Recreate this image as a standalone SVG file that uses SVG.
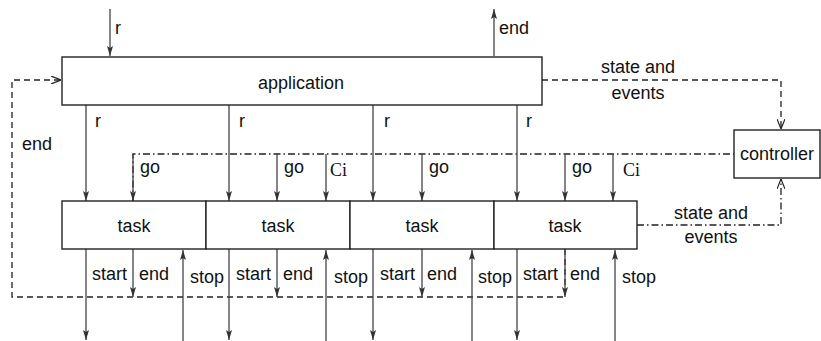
<svg xmlns="http://www.w3.org/2000/svg" width="821" height="341" viewBox="0 0 821 341">
<defs>
<marker id="ah" viewBox="0 0 10 6" refX="10" refY="3" markerWidth="10" markerHeight="6" markerUnits="userSpaceOnUse" orient="auto">
<path d="M0,0 L10,3 L0,6 L2,3 Z" fill="#333"/>
</marker>
<marker id="ao" viewBox="0 0 10 8" refX="10" refY="4" markerWidth="10" markerHeight="8" markerUnits="userSpaceOnUse" orient="auto">
<path d="M0,0 L10,4 L0,8" fill="none" stroke="#222" stroke-width="1.2"/>
</marker>
</defs>
<style>
.box{fill:#fff;stroke:#222;stroke-width:1.4}
.t{font-family:"Liberation Sans",Arial,sans-serif;font-size:18px;fill:#111}
.c{text-anchor:middle}
.s{font-family:"Liberation Serif","Times New Roman",serif;font-size:18px;fill:#111}
.a{stroke:#444;stroke-width:1.3;fill:none;marker-end:url(#ah)}
.d{stroke:#222;stroke-width:1.3;fill:none;stroke-dasharray:6,4}
.dd{stroke:#222;stroke-width:1.3;fill:none;stroke-dasharray:7,3,1.5,3}
</style>
<g id="connectors">
<line class="a" x1="110" y1="9" x2="110" y2="56"/>
<line class="a" x1="494" y1="56" x2="494" y2="9"/>
<polyline class="d" points="542,80 781,80 781,129" marker-end="url(#ao)"/>
<polyline class="d" points="565,249 565,297 12,297 12,80 61,80" marker-end="url(#ao)"/>
<polyline class="dd" points="133,202 133,154 734,154"/>
<polyline class="dd" points="637,225 781,225 781,179" marker-end="url(#ao)"/>
<line class="a" x1="86" y1="105" x2="86" y2="201"/>
<line class="a" x1="229" y1="105" x2="229" y2="201"/>
<line class="a" x1="373" y1="105" x2="373" y2="201"/>
<line class="a" x1="517" y1="105" x2="517" y2="201"/>
<line class="a" x1="133" y1="154" x2="133" y2="201"/>
<line class="a" x1="277" y1="154" x2="277" y2="201"/>
<line class="a" x1="422" y1="154" x2="422" y2="201"/>
<line class="a" x1="565" y1="154" x2="565" y2="201"/>
<line class="a" x1="326" y1="154" x2="326" y2="201"/>
<line class="a" x1="613" y1="154" x2="613" y2="201"/>
<line class="a" x1="86" y1="249" x2="86" y2="340"/>
<line class="a" x1="229" y1="249" x2="229" y2="340"/>
<line class="a" x1="373" y1="249" x2="373" y2="340"/>
<line class="a" x1="517" y1="249" x2="517" y2="340"/>
<line class="a" x1="133" y1="249" x2="133" y2="297"/>
<line class="a" x1="277" y1="249" x2="277" y2="297"/>
<line class="a" x1="422" y1="249" x2="422" y2="297"/>
<line class="a" x1="565" y1="249" x2="565" y2="297"/>
<line class="a" x1="183" y1="341" x2="183" y2="250"/>
<line class="a" x1="326" y1="341" x2="326" y2="250"/>
<line class="a" x1="472" y1="341" x2="472" y2="250"/>
<line class="a" x1="615" y1="341" x2="615" y2="250"/>
</g>
<g id="labels">
<text class="t" x="115" y="34">r</text>
<text class="t" x="499" y="34">end</text>
<text class="t c" x="638" y="73">state and</text>
<text class="t c" x="638" y="99">events</text>
<text class="t" x="22" y="150">end</text>
<text class="t" x="95" y="127">r</text>
<text class="t" x="239" y="127">r</text>
<text class="t" x="384" y="127">r</text>
<text class="t" x="526" y="127">r</text>
<text class="t" x="140" y="173">go</text>
<text class="t" x="284" y="173">go</text>
<text class="t" x="429" y="173">go</text>
<text class="t" x="572" y="173">go</text>
<text class="s" x="330" y="176">Ci</text>
<text class="s" x="623" y="176">Ci</text>
<text class="t c" x="711" y="219">state and</text>
<text class="t c" x="711" y="243">events</text>
<text class="t" x="92" y="280">start</text>
<text class="t" x="139" y="280">end</text>
<text class="t" x="190" y="283">stop</text>
<text class="t" x="236" y="280">start</text>
<text class="t" x="283" y="280">end</text>
<text class="t" x="334" y="283">stop</text>
<text class="t" x="380" y="280">start</text>
<text class="t" x="427" y="280">end</text>
<text class="t" x="478" y="283">stop</text>
<text class="t" x="523" y="280">start</text>
<text class="t" x="570" y="280">end</text>
<text class="t" x="622" y="283">stop</text>
</g>
<g id="application">
<rect class="box" x="62" y="57" width="480" height="48"/>
<text class="t c" x="301" y="89">application</text>
</g>
<g id="controller">
<rect class="box" x="734" y="130" width="86" height="48"/>
<text class="t c" x="777" y="160">controller</text>
</g>
<g id="task1">
<rect class="box" x="62" y="201" width="144" height="48"/>
<text class="t c" x="134" y="232">task</text>
</g>
<g id="task2">
<rect class="box" x="206" y="201" width="144" height="48"/>
<text class="t c" x="278" y="232">task</text>
</g>
<g id="task3">
<rect class="box" x="350" y="201" width="144" height="48"/>
<text class="t c" x="422" y="232">task</text>
</g>
<g id="task4">
<rect class="box" x="494" y="201" width="143" height="48"/>
<text class="t c" x="565" y="232">task</text>
</g>
</svg>
